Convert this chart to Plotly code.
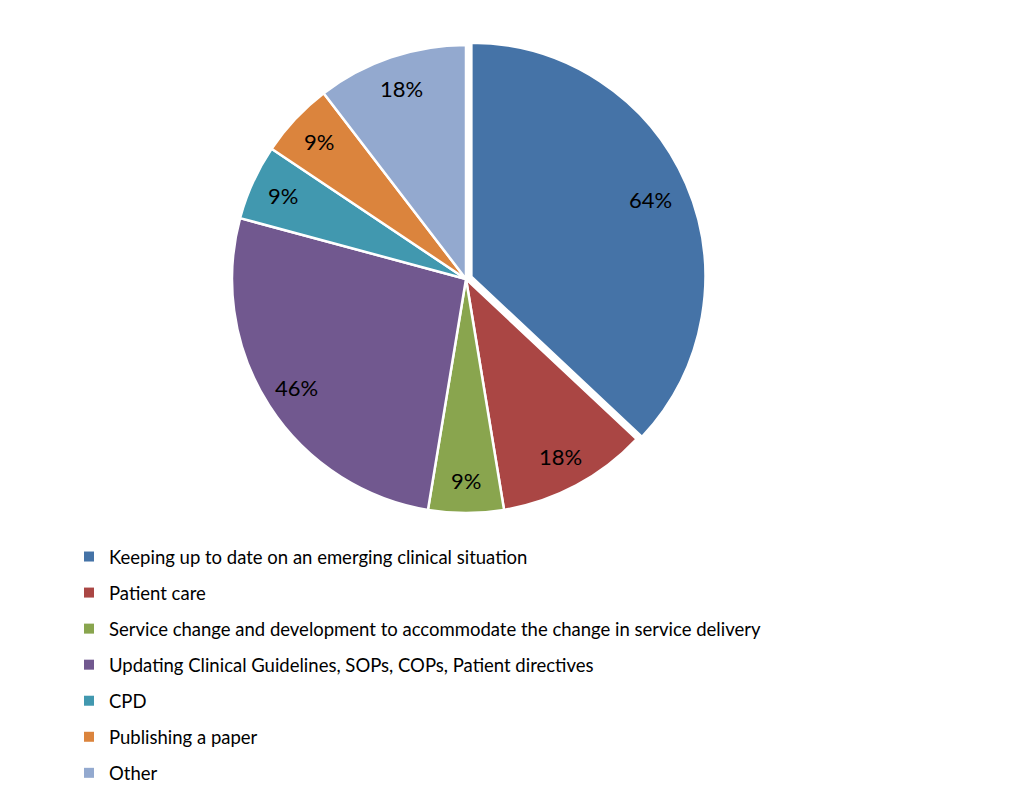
import math
import plotly.graph_objects as go

categories = [
    "Keeping up to date on an emerging clinical situation",
    "Patient care",
    "Service change and development to accommodate the change in service delivery",
    "Updating Clinical Guidelines, SOPs, COPs, Patient directives",
    "CPD",
    "Publishing a paper",
    "Other",
]
values = [64, 18, 9, 46, 9, 9, 18]
labels_text = ["64%", "18%", "9%", "46%", "9%", "9%", "18%"]
colors = ["#4573A7", "#AA4644", "#89A54E", "#71588F", "#4198AF", "#DB843D", "#93A9CF"]
pulls = [0.025, 0, 0, 0, 0, 0, 0]

W, H = 1024, 805
OFF = 8  # default page body margin
cx, cy, r = 466 - OFF, 279 - OFF, 234
half = r * (1 + max(pulls))
label_frac = 0.86

fig = go.Figure()
fig.add_trace(go.Pie(
    labels=categories,
    values=values,
    text=labels_text,
    textinfo="none",
    sort=False,
    direction="clockwise",
    rotation=0,
    pull=pulls,
    marker=dict(colors=colors, line=dict(color="white", width=2.5)),
    showlegend=False,
    hoverinfo="label+text",
    domain=dict(x=[(cx - half) / W, (cx + half) / W],
                y=[1 - (cy + half) / H, 1 - (cy - half) / H]),
))

# data labels placed at slice mid-angles (computed from values)
total = sum(values)
cum = 0
for v, t in zip(values, labels_text):
    mid = (cum + v / 2) / total * 2 * math.pi
    cum += v
    rr = r * label_frac
    px = cx + rr * math.sin(mid)
    py = cy - rr * math.cos(mid)
    fig.add_annotation(
        x=px / W, y=1 - py / H, xref="paper", yref="paper",
        text=t, showarrow=False, xanchor="center", yanchor="middle",
        font=dict(family="Lato", size=22, color="black"),
    )

for i, (cat, col) in enumerate(zip(categories, colors)):
    fig.add_trace(go.Scatter(
        x=[None], y=[None], mode="markers", name=cat,
        marker=dict(symbol="square", size=10, color=col),
        legendgroup=f"g{i}", showlegend=True,
    ))

fig.update_layout(
    width=W, height=H,
    margin=dict(l=0, r=0, t=0, b=0),
    paper_bgcolor="white", plot_bgcolor="white",
    xaxis=dict(visible=False), yaxis=dict(visible=False),
    legend=dict(
        x=(69 - OFF) / W, y=1 - (538 - OFF) / H, xanchor="left", yanchor="top",
        orientation="v", tracegroupgap=9,
        font=dict(family="Lato", size=18.5, color="black"),
        bgcolor="rgba(0,0,0,0)",
    ),
)

fig.write_html("out.html")
